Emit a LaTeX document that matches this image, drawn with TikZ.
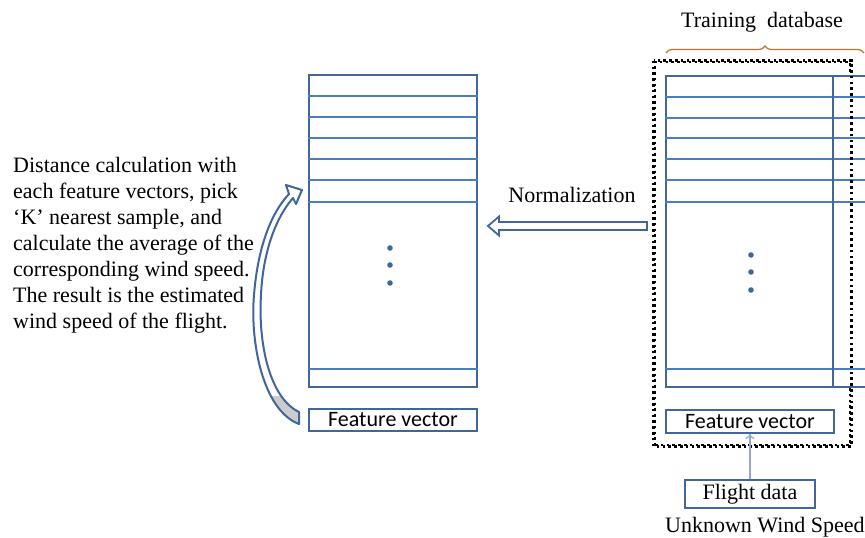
\documentclass[tikz,border=0pt]{standalone}
\usepackage{fontspec}
\setmainfont{Liberation Serif}
\newfontfamily\calibri{Carlito}
\usepackage{tikz}
\usetikzlibrary{decorations.pathreplacing, arrows.meta}

\definecolor{frameblue}{HTML}{41669A}
\definecolor{rowblue}{HTML}{4A7EC0}
\definecolor{lightblue}{HTML}{8EA9D8}
\definecolor{bracebrown}{HTML}{C0712F}

\newcommand{\bandshape}{(299,424) .. controls (262,410) and (250,340) .. (254,295)
	.. controls (258,245) and (272,212) .. (289,194) -- (286,185) -- (302,190)
	-- (296,204) -- (293,198) .. controls (277,216) and (263,250) .. (261,295)
	.. controls (258,345) and (270,398) .. (299,412) -- cycle}

\begin{document}
\begin{tikzpicture}[x=1pt, y=-1pt,
	every node/.style={font=\fontsize{22}{26}\selectfont, inner sep=0pt},
	tabframe/.style={draw=frameblue, line width=2.8pt, fill=white},
	rowline/.style={draw=rowblue, line width=1.5pt},
	featbox/.style={draw=frameblue, line width=2.3pt, font=\calibri\fontsize{22}{25}\selectfont},
	dotbox/.style={draw=black, line width=2.6pt, dash pattern=on 2.6pt off 3.2pt}]
	\clip (0,0) rectangle (865,538);

	% left table
	\node[tabframe, minimum width=168, minimum height=312] (lefttab) at (393,231) {};
	\foreach \y in {96,117,138,159,180,202,369}
		\draw[rowline] (lefttab.west |- 0,\y) -- (lefttab.east |- 0,\y);
	\foreach \y in {248,265,283}
		\fill[frameblue] (390,\y) circle (2.8);
	\node[featbox, minimum width=168, minimum height=22] (fvleft) at (393,420) {Feature vector};

	% training database
	\node[dotbox, minimum width=195, minimum height=383] (trainbox) at (752.5,253.5) {};
	\node[tabframe, minimum width=214, minimum height=311] (righttab) at (773,231.5) {};
	\foreach \y in {97,118,138,159,180,202,369}
		\draw[rowline] (righttab.west |- 0,\y) -- (righttab.east |- 0,\y);
	\draw[draw=frameblue, line width=2.8pt] (833,76) -- (833,387);
	\foreach \y in {255,272,290}
		\fill[frameblue] (751,\y) circle (2.8);
	\node[featbox, fill=white, minimum width=168, minimum height=22.5] (fvright) at (750,421.5) {Feature vector};
	\draw[dotbox] (trainbox.north west) rectangle (trainbox.south east);

	\draw[bracebrown, line width=1.2pt, decorate, decoration={brace, amplitude=7pt}] (666,53) -- (864,53);
	\node (traintitle) at (762,22) {Training\ \ database};

	% flight data
	\node[featbox, font=\fontsize{22}{26}\selectfont, minimum width=130, minimum height=28] (flight) at (750,494) {Flight data};
	\node[anchor=west] (unknown) at (665,527) {Unknown Wind Speed};
	\draw[lightblue, line width=1.2pt, -{To[length=5pt, width=9pt]}] (flight) -- (fvright);

	% normalization
	\node (normtext) at (572,195) {Normalization};
	\coordinate (normR) at (647,226);
	\coordinate (normL) at (488,226);
	\draw[frameblue, line width=1.8pt, fill=white, line join=miter]
		(normL) -- ++(11,-9.5) -- ++(0,5.5) -- (normR |- 0,222) -- (normR |- 0,230)
		-- (499,230) -- ++(0,5.5) -- cycle;

	% curved arrow
	\fill[white] \bandshape;
	\begin{scope}
		\clip (240,396) rectangle (310,430);
		\fill[black!20] \bandshape;
	\end{scope}
	\draw[frameblue, line width=2pt, line join=round] \bandshape;

	\node[anchor=north west, align=left] (knntext) at (13,157.5)
		{Distance calculation with\\each feature vectors, pick\\`K' nearest sample, and\\calculate the average of the\\corresponding wind speed.\\The result is the estimated\\wind speed of the flight.};
\end{tikzpicture}
\end{document}
